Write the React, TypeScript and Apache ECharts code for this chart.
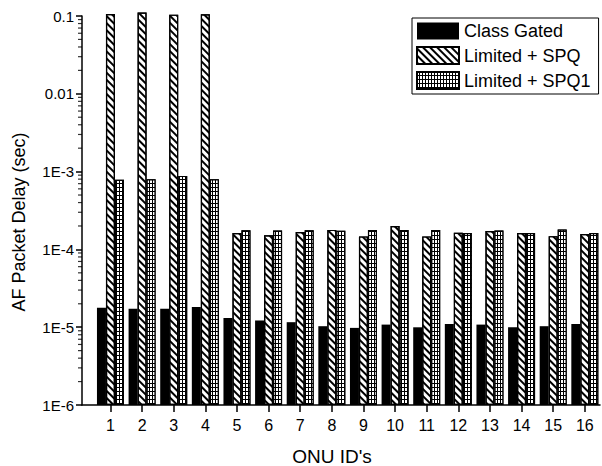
import React, { useEffect, useRef } from "react";
import * as echarts from "echarts";

const onuIds = [1, 2, 3, 4, 5, 6, 7, 8, 9, 10, 11, 12, 13, 14, 15, 16];
const classGated = [1.78e-5, 1.73e-5, 1.73e-5, 1.82e-5, 1.31e-5, 1.22e-5, 1.16e-5, 1.03e-5, 9.8e-6, 1.08e-5, 9.97e-6, 1.1e-5, 1.08e-5, 1.0e-5, 1.03e-5, 1.1e-5];
const limitedSPQ = [0.106, 0.111, 0.104, 0.105, 1.62e-4, 1.52e-4, 1.67e-4, 1.78e-4, 1.47e-4, 2.0e-4, 1.47e-4, 1.64e-4, 1.72e-4, 1.62e-4, 1.48e-4, 1.58e-4];
const limitedSPQ1 = [7.87e-4, 7.96e-4, 8.8e-4, 7.96e-4, 1.76e-4, 1.75e-4, 1.76e-4, 1.74e-4, 1.78e-4, 1.77e-4, 1.77e-4, 1.62e-4, 1.75e-4, 1.62e-4, 1.8e-4, 1.62e-4];
const seriesNames = ["Class Gated", "Limited + SPQ", "Limited + SPQ1"];
const yTickLabels = ["1E-6", "1E-5", "1E-4", "1E-3", "0.01", "0.1"];
const yMin = 1e-6;
const yMax = 0.1;
const minorTickValues: number[] = [];
for (let e = -6; e <= -2; e++) {
  for (let k = 2; k <= 9; k++) minorTickValues.push(k * Math.pow(10, e));
}

const FONT = "'Liberation Sans', Arial, sans-serif";

export default function App() {
  const ref = useRef<HTMLDivElement>(null);
  useEffect(() => {
    if (!ref.current) return;
    const chart = echarts.init(ref.current, null, { renderer: "svg" });
    const xMin = 0.1;
    const barCommon = { type: "bar", barWidth: 9, barGap: "0%", clip: false };
    const option: any = {
      animation: false,
      backgroundColor: "#fff",
      grid: { left: 82, right: 2, top: 16, bottom: 61, containLabel: false },
      legend: {
        data: seriesNames,
        orient: "vertical",
        left: 412,
        top: 18,
        padding: [4, 8, 4, 4],
        itemWidth: 42,
        itemHeight: 17,
        itemGap: 6,
        icon: "rect",
        borderColor: "#000",
        borderWidth: 1,
        backgroundColor: "#fff",
        z: 10,
        textStyle: { fontSize: 18, color: "#000", fontFamily: FONT },
      },
      xAxis: {
        type: "value",
        min: xMin,
        max: 16.48,
        splitLine: { show: false },
        axisLine: { show: true, lineStyle: { color: "#000", width: 1.5 } },
        axisTick: { show: true, length: 7, lineStyle: { color: "#000", width: 1.5 }, customValues: onuIds },
        axisLabel: { color: "#000", fontSize: 16, fontFamily: FONT, margin: 12, customValues: onuIds },
      },
      yAxis: {
        type: "log",
        logBase: 10,
        min: yMin,
        max: yMax,
        startValue: yMin,
        splitLine: { show: false },
        axisLine: { show: true, lineStyle: { color: "#000", width: 1.5 } },
        axisTick: { show: true, length: 6, lineStyle: { color: "#000", width: 1.5 } },
        axisLabel: {
          color: "#000",
          fontSize: 15,
          fontFamily: FONT,
          margin: 8,
          formatter: (v: number) => yTickLabels[Math.round(Math.log10(v) + 6)] ?? "",
        },
      },
      graphic: [
        {
          type: "text",
          x: 19,
          y: 222,
          rotation: Math.PI / 2,
          style: { text: "AF Packet Delay (sec)", fontSize: 18, fontFamily: FONT, fill: "#000", align: "center", verticalAlign: "middle" },
        },
        {
          type: "text",
          x: 332,
          y: 456,
          style: { text: "ONU ID's", fontSize: 19, fontFamily: FONT, fill: "#000", align: "center", verticalAlign: "middle" },
        },
      ],
      series: [
        {
          ...barCommon,
          name: seriesNames[0],
          itemStyle: { color: "#000" },
          data: onuIds.map((x, i) => [x, classGated[i]]),
        },
        {
          ...barCommon,
          name: seriesNames[1],
          itemStyle: {
            color: "#fff",
            borderColor: "#000",
            borderWidth: 1.2,
            decal: {
              symbol: "rect",
              symbolSize: 1,
              color: "#000",
              dashArrayX: [1, 0],
              dashArrayY: [1.3, 2.3],
              rotation: Math.PI / 4,
            },
          },
          data: onuIds.map((x, i) => [x, limitedSPQ[i]]),
        },
        {
          ...barCommon,
          name: seriesNames[2],
          itemStyle: {
            color: "#000",
            borderColor: "#000",
            borderWidth: 1.2,
            decal: {
              symbol: "rect",
              symbolSize: 1,
              color: "#fff",
              backgroundColor: "#000",
              dashArrayX: [2, 1],
              dashArrayY: [3, 1],
              rotation: 0,
            },
          },
          data: onuIds.map((x, i) => [x, limitedSPQ1[i]]),
        },
        {
          name: "minorTicks",
          type: "scatter",
          clip: false,
          silent: true,
          symbol: "rect",
          symbolSize: [4, 1.2],
          symbolOffset: [-2, 0],
          itemStyle: { color: "#000" },
          data: minorTickValues.map((v) => [xMin, v]),
          z: 5,
        },
      ],
    };
    chart.setOption(option);
    return () => chart.dispose();
  }, []);
  return <div ref={ref} style={{ width: 602, height: 466, position: "absolute", left: 0, top: 0 }} />;
}
